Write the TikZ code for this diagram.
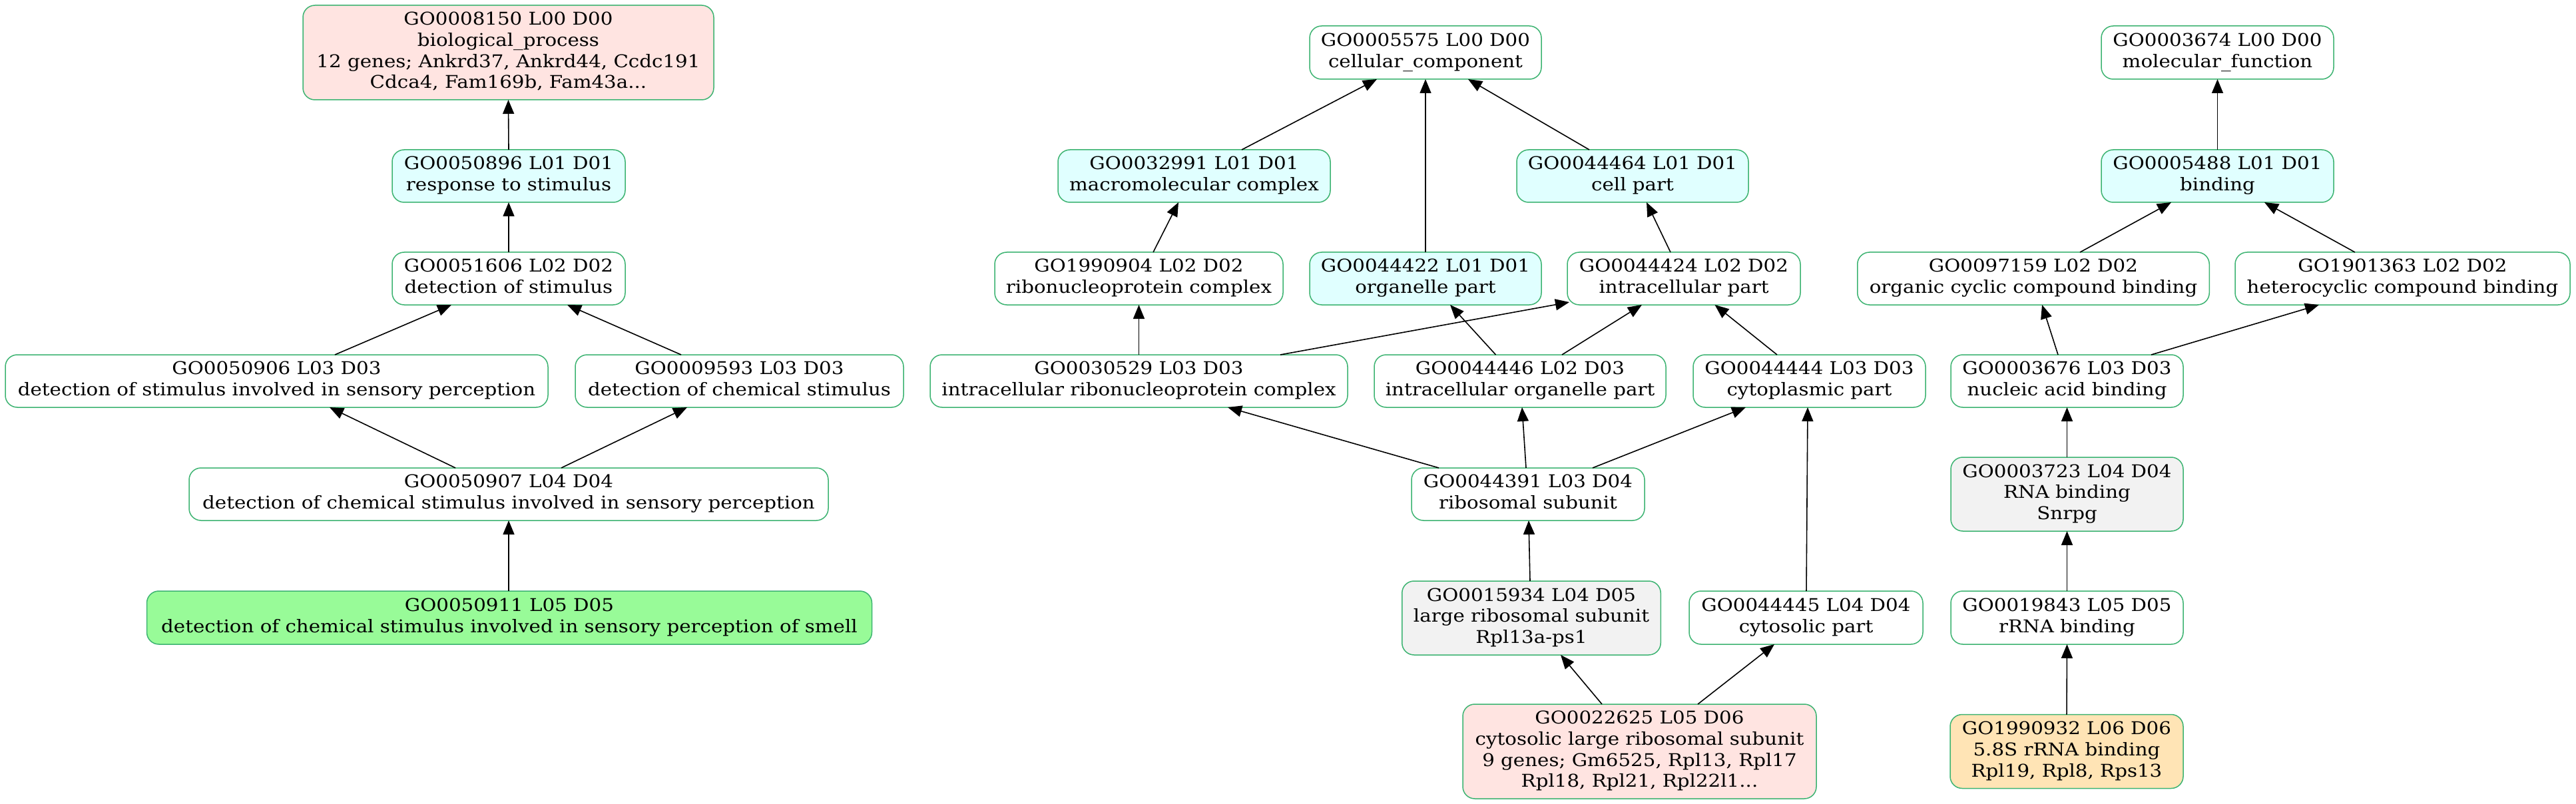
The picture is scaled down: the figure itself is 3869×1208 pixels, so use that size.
\documentclass[tikz,border=0pt]{standalone}
\usepackage{fontspec}
\usepackage{graphicx}
\setmainfont{DejaVu Serif}
\usetikzlibrary{arrows.meta,calc}
\definecolor{goborder}{HTML}{3CB371}
\definecolor{gopink}{HTML}{FFE4E1}
\definecolor{gocyan}{HTML}{E0FFFF}
\definecolor{gogreen}{HTML}{98FB98}
\definecolor{gogray}{HTML}{F2F2F2}
\definecolor{gomocc}{HTML}{FFE4B5}
\newcommand\golbl[1]{\scalebox{1.11}[1]{\begin{tabular}{@{}c@{}}#1\end{tabular}}}
\newcommand\golink[4]{\draw[goedge] ($(#1.north)+(#2,0)$) -- ($(#3.south)+(#4,0)$);}
\tikzset{
  gonode/.style={draw=goborder, line width=0.75pt, rounded corners=9pt, fill=white,
    inner sep=0pt, outer sep=0pt, font=\fontsize{13.2}{15.85}\selectfont},
  sz/.style 2 args={minimum width=#1*0.5pt, minimum height=#2*0.5pt},
  goedge/.style={line width=0.8pt, -{Triangle[length=10.5pt,width=8.5pt]}}
}
\begin{document}
\begin{tikzpicture}[x=0.5pt,y=-0.5pt]
\useasboundingbox (0,0) rectangle (3869,1208);
% biological process
\node[gonode,sz={617}{142},fill=gopink] (n8150) at (763.5,79) {\golbl{GO0008150 L00 D00\\biological\_process\\12 genes; Ankrd37, Ankrd44, Ccdc191\\Cdca4, Fam169b, Fam43a...}};
\node[gonode,sz={350}{79},fill=gocyan] (n50896) at (764,264.5) {\golbl{GO0050896 L01 D01\\response to stimulus}};
\node[gonode,sz={350}{79}] (n51606) at (764,418.5) {\golbl{GO0051606 L02 D02\\detection of stimulus}};
\node[gonode,sz={815}{79}] (n50906) at (415.5,572.5) {\golbl{GO0050906 L03 D03\\detection of stimulus involved in sensory perception}};
\node[gonode,sz={493}{79}] (n9593) at (1110.5,572.5) {\golbl{GO0009593 L03 D03\\detection of chemical stimulus}};
\node[gonode,sz={960}{79}] (n50907) at (764,742.5) {\golbl{GO0050907 L04 D04\\detection of chemical stimulus involved in sensory perception}};
\node[gonode,sz={1089}{80},fill=gogreen] (n50911) at (765,928) {\golbl{GO0050911 L05 D05\\detection of chemical stimulus involved in sensory perception of smell}};
% cellular component
\node[gonode,sz={348}{80}] (n5575) at (2141,79) {\golbl{GO0005575 L00 D00\\cellular\_component}};
\node[gonode,sz={409}{79},fill=gocyan] (n32991) at (1793.5,264.5) {\golbl{GO0032991 L01 D01\\macromolecular complex}};
\node[gonode,sz={348}{79},fill=gocyan] (n44464) at (2452,264.5) {\golbl{GO0044464 L01 D01\\cell part}};
\node[gonode,sz={433}{79}] (n1990904) at (1710.5,418.5) {\golbl{GO1990904 L02 D02\\ribonucleoprotein complex}};
\node[gonode,sz={348}{79},fill=gocyan] (n44422) at (2141,418.5) {\golbl{GO0044422 L01 D01\\organelle part}};
\node[gonode,sz={350}{79}] (n44424) at (2529,418.5) {\golbl{GO0044424 L02 D02\\intracellular part}};
\node[gonode,sz={627}{79}] (n30529) at (1710.5,572.5) {\golbl{GO0030529 L03 D03\\intracellular ribonucleoprotein complex}};
\node[gonode,sz={438}{79}] (n44446) at (2283,572.5) {\golbl{GO0044446 L02 D03\\intracellular organelle part}};
\node[gonode,sz={349}{79}] (n44444) at (2717.5,572.5) {\golbl{GO0044444 L03 D03\\cytoplasmic part}};
\node[gonode,sz={350}{79}] (n44391) at (2295,742.5) {\golbl{GO0044391 L03 D04\\ribosomal subunit}};
\node[gonode,sz={388.5}{111},fill=gogray] (n15934) at (2300,928.5) {\golbl{GO0015934 L04 D05\\large ribosomal subunit\\Rpl13a-ps1}};
\node[gonode,sz={351}{80}] (n44445) at (2712.5,928) {\golbl{GO0044445 L04 D04\\cytosolic part}};
\node[gonode,sz={531}{142},fill=gopink] (n22625) at (2462.5,1129) {\golbl{GO0022625 L05 D06\\cytosolic large ribosomal subunit\\9 genes; Gm6525, Rpl13, Rpl17\\Rpl18, Rpl21, Rpl22l1...}};
% molecular function
\node[gonode,sz={349}{80}] (n3674) at (3330.5,79) {\golbl{GO0003674 L00 D00\\molecular\_function}};
\node[gonode,sz={349}{79},fill=gocyan] (n5488) at (3330.5,264.5) {\golbl{GO0005488 L01 D01\\binding}};
\node[gonode,sz={528.5}{79}] (n97159) at (3054,418.5) {\golbl{GO0097159 L02 D02\\organic cyclic compound binding}};
\node[gonode,sz={503}{79}] (n1901363) at (3608.5,418.5) {\golbl{GO1901363 L02 D02\\heterocyclic compound binding}};
\node[gonode,sz={349}{79}] (n3676) at (3104.5,572.5) {\golbl{GO0003676 L03 D03\\nucleic acid binding}};
\node[gonode,sz={349}{111},fill=gogray] (n3723) at (3104.5,742.5) {\golbl{GO0003723 L04 D04\\RNA binding\\Snrpg}};
\node[gonode,sz={349}{80}] (n19843) at (3104.5,928) {\golbl{GO0019843 L05 D05\\rRNA binding}};
\node[gonode,sz={350}{111},fill=gomocc] (n1990932) at (3104,1129) {\golbl{GO1990932 L06 D06\\5.8S rRNA binding\\Rpl19, Rpl8, Rps13}};
% edges (child -> parent)
\golink{n50896}{0}{n8150}{0}
\golink{n51606}{0}{n50896}{0}
\golink{n50906}{87.5}{n51606}{-86}
\golink{n9593}{-87.5}{n51606}{88}
\golink{n50907}{-80}{n50906}{79.5}
\golink{n50907}{79}{n9593}{-78.5}
\golink{n50911}{-1}{n50907}{0}
\golink{n32991}{71.5}{n5575}{-73}
\golink{n44422}{0}{n5575}{0}
\golink{n44464}{-65}{n5575}{64}
\golink{n1990904}{21.5}{n32991}{-23.5}
\golink{n44424}{-20}{n44464}{21}
\golink{n30529}{0}{n1990904}{0}
\draw[goedge] ($(n30529.north)+(212.5,0)$) -- ($(n44424.south)+(-172,-4)$);
\golink{n44446}{-36.5}{n44422}{37}
\golink{n44446}{63}{n44424}{-63}
\golink{n44444}{-48.5}{n44424}{46.5}
\golink{n44391}{-134}{n30529}{133.5}
\golink{n44391}{-3}{n44446}{3}
\golink{n44391}{97}{n44444}{-95.5}
\golink{n15934}{-2}{n44391}{1}
\golink{n22625}{-56.5}{n15934}{44}
\golink{n22625}{87.5}{n44445}{-47.5}
\golink{n44445}{0.5}{n44444}{-2.5}
\golink{n5488}{0}{n3674}{0}
\golink{n97159}{70}{n5488}{-69.5}
\golink{n1901363}{-71.5}{n5488}{70.5}
\golink{n3676}{-13.5}{n97159}{13}
\golink{n3676}{126.5}{n1901363}{-125.5}
\golink{n3723}{0}{n3676}{0}
\golink{n19843}{0}{n3723}{0}
\golink{n1990932}{0}{n19843}{0}
\end{tikzpicture}
\end{document}
